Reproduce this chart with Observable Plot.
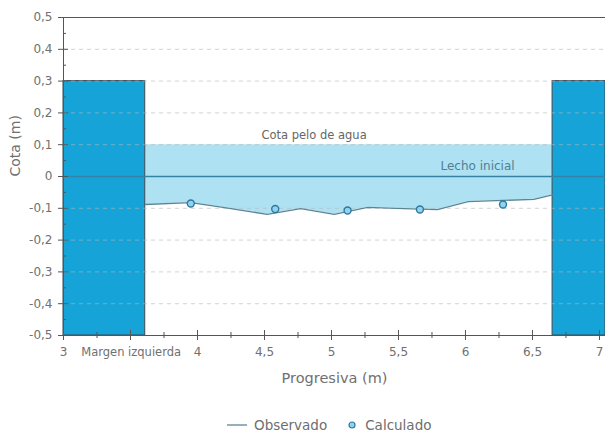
<!DOCTYPE html>
<html>
<head>
<meta charset="utf-8">
<script src="https://cdn.jsdelivr.net/npm/d3@7"></script>
<script src="https://cdn.jsdelivr.net/npm/@observablehq/plot@0.6"></script>
<style>
  body { margin: 0; background: #fff; font-family: "DejaVu Sans", sans-serif; }
  #wrap { position: relative; width: 605px; height: 437px; }
  #legend { position: absolute; left: 226px; top: 417px; display: flex; align-items: center; font-size: 13.5px; color: #6e6e6e; white-space: nowrap; }
  #legend svg { display: block; }
</style>
</head>
<body>
<div id="wrap">
  <div id="chart"></div>
  <div id="legend"></div>
</div>
<script>
// ---- data ----
const xTicks = [3, 3.5, 4, 4.5, 5, 5.5, 6, 6.5, 7];
const xTickLabels = [3, 4, 4.5, 5, 5.5, 6, 6.5, 7];   // 3,5 hidden by "Margen izquierda"
const xMinor = [3.25, 3.75, 4.25, 4.75, 5.25, 5.75, 6.25, 6.75];
const yTicks = [-0.5, -0.4, -0.3, -0.2, -0.1, 0, 0.1, 0.2, 0.3, 0.4, 0.5];
const yMinor = [-0.45, -0.35, -0.25, -0.15, -0.05, 0.05, 0.15, 0.25, 0.35, 0.45];
const gridLevels = [-0.4, -0.3, -0.2, -0.1, 0.1, 0.2, 0.3, 0.4];

// banks (margins): [x1, x2, bottom, top]
const bankNames = ["Margen izquierda", "Margen derecha"];
const bankX1 = [3, 6.65];
const bankX2 = [3.61, 7.045];
const bankBottom = [-0.5, -0.5];
const bankTop = [0.3, 0.3];

const waterLevel = 0.1;    // Cota pelo de agua
const initialBed = 0;      // Lecho inicial

// observed bed
const obsX = [3.61, 3.95, 4.19, 4.52, 4.77, 5.02, 5.27, 5.54, 5.79, 6.02, 6.51, 6.65];
const obsY = [-0.088, -0.082, -0.097, -0.119, -0.101, -0.119, -0.097, -0.101, -0.104, -0.079, -0.072, -0.058];

// calculated points
const calcX = [3.95, 4.58, 5.12, 5.66, 6.28];
const calcY = [-0.085, -0.102, -0.107, -0.104, -0.088];

const xDomain = [3, 7.045];
const yDomain = [-0.5, 0.5];

// ---- build ----
const fmt = d => String(d).replace(".", ",");
const banks = bankNames.map((n, i) => ({name: n, x1: bankX1[i], x2: bankX2[i], y1: bankBottom[i], y2: bankTop[i]}));
const obs = obsX.map((x, i) => ({x, y: obsY[i]}));
const calc = calcX.map((x, i) => ({x, y: calcY[i]}));

const textColor = "#707070";
const axisColor = "#555";

const chart = Plot.plot({
  width: 605,
  height: 400,
  marginLeft: 63,
  marginRight: 0,
  marginTop: 17,
  marginBottom: 65,
  style: {fontFamily: "DejaVu Sans, sans-serif", color: textColor, background: "#fff"},
  x: {domain: xDomain},
  y: {domain: yDomain},
  marks: [
    // water body
    Plot.areaY(obs, {x: "x", y1: "y", y2: waterLevel, fill: "#aee2f2"}),
    // banks
    Plot.rect(banks, {x1: "x1", x2: "x2", y1: "y1", y2: "y2", fill: "#16a4d8", stroke: "#3d4a52", strokeWidth: 1}),
    // grid
    Plot.ruleY(gridLevels, {y: d => d, x1: xDomain[0], x2: xDomain[1], stroke: "#b5b5b5", strokeOpacity: 0.6, strokeDasharray: "4,4"}),
    // initial bed line
    Plot.ruleY([initialBed], {y: d => d, x1: xDomain[0], x2: xDomain[1], stroke: "#3483a6", strokeWidth: 1.4}),
    // observed bed
    Plot.line(obs, {x: "x", y: "y", stroke: "#5b8597", strokeWidth: 1.3}),
    // calculated
    Plot.dot(calc, {x: "x", y: "y", r: 3.5, fill: "#8fd3ec", stroke: "#2f77a0", strokeWidth: 1.4}),
    // frame
    Plot.ruleY([yDomain[1]], {y: d => d, x1: xDomain[0], x2: xDomain[1], stroke: axisColor}),
    Plot.ruleY([yDomain[0]], {y: d => d, x1: xDomain[0], x2: xDomain[1], stroke: axisColor}),
    Plot.ruleX([xDomain[0]], {x: d => d, y1: yDomain[0], y2: yDomain[1], stroke: axisColor}),
    // ticks x
    Plot.ruleX(xTicks, {x: d => d, y1: yDomain[0], y2: yDomain[0], insetTop: -5, insetBottom: -5, stroke: axisColor}),
    Plot.ruleX(xMinor, {x: d => d, y1: yDomain[0], y2: yDomain[0], insetTop: -3, insetBottom: -3, stroke: axisColor}),
    // ticks y
    Plot.ruleY(yTicks, {y: d => d, x1: xDomain[0], x2: xDomain[0], insetLeft: -5, insetRight: -5, stroke: axisColor}),
    Plot.ruleY(yMinor, {y: d => d, x1: xDomain[0], x2: xDomain[0], insetLeft: 0, insetRight: -3, stroke: axisColor}),
    // tick labels
    Plot.axisX({ticks: xTickLabels, tickSize: 0, tickPadding: 12, tickFormat: fmt, label: null, fontSize: 12}),
    Plot.axisY({ticks: yTicks, tickSize: 0, tickPadding: 11, tickFormat: fmt, label: null, fontSize: 12}),
    // axis titles
    Plot.text(["Progresiva (m)"], {frameAnchor: "bottom", dy: 47, fontSize: 14.5, fill: textColor}),
    Plot.text(["Cota (m)"], {frameAnchor: "left", dx: -48, rotate: -90, fontSize: 14, fill: textColor}),
    // annotations
    Plot.text([banks[0]], {x: d => (d.x1 + d.x2) / 2 + 0.2, y: d => d.y1, text: "name", dy: 17, fontSize: 11.5, fill: textColor}),
    Plot.text(["Cota pelo de agua"], {x: 4.87, y: waterLevel, dy: -9, fontSize: 11.5, fill: "#666"}),
    Plot.text(["Lecho inicial"], {x: 6.09, y: initialBed, dy: -10, fontSize: 12, fill: "#4e7f96"})
  ]
});
document.getElementById("chart").appendChild(chart);

// legend
const legend = document.getElementById("legend");
legend.innerHTML = `
  <svg width="22" height="10"><line x1="1" x2="21" y1="5" y2="5" stroke="#5b8597" stroke-width="1.3"/></svg>
  <span style="margin-left:6px">Observado</span>
  <svg width="14" height="10" style="margin-left:18px"><circle cx="7" cy="5" r="3" fill="#8fd3ec" stroke="#2f77a0" stroke-width="1.2"/></svg>
  <span style="margin-left:6px">Calculado</span>`;
</script>
</body>
</html>
